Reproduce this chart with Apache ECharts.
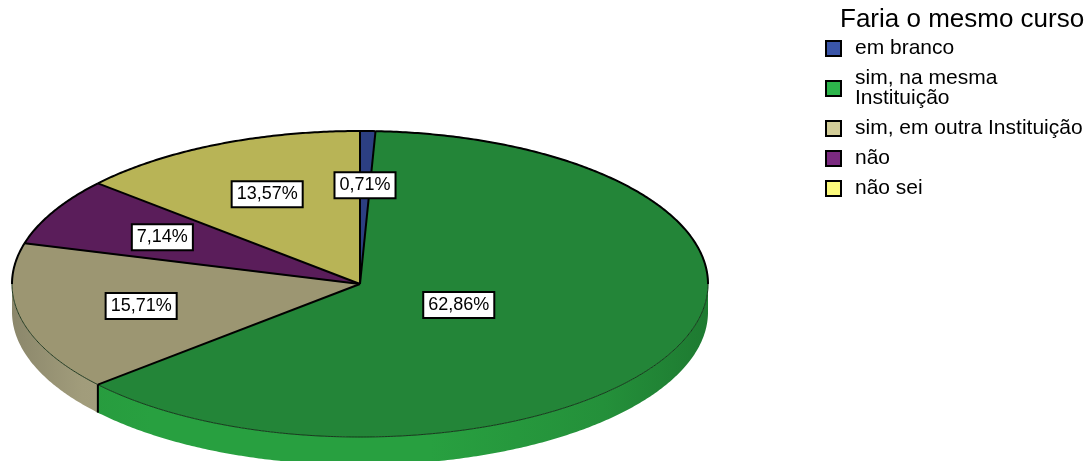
<!DOCTYPE html>
<html>
<head>
<meta charset="utf-8">
<script src="https://cdn.jsdelivr.net/npm/echarts@6/dist/echarts.min.js"></script>
<style>
html,body{margin:0;padding:0;background:#fff;}
#chart{width:1091px;height:461px;}
</style>
</head>
<body>
<div id="chart"></div>
<script>
// ---- data ----
const categories = ['em branco', 'sim, na mesma Instituição', 'sim, em outra Instituição', 'não', 'não sei'];
const percentages = [0.71, 62.86, 15.71, 7.14, 13.57];
const valueLabels = ['0,71%', '62,86%', '15,71%', '7,14%', '13,57%'];
const legendTitle = 'Faria o mesmo curso';

// ---- styles ----
const topColors = ['#2c3f82', '#238538', '#9c9672', '#5a1d5a', '#b8b456'];
const sideColors = ['#3a55a8', '#28a040', '#a6a17f', '#6e2a70', '#cfcb66'];
const legendColors = ['#3a55a8', '#2db54b', '#d3cd98', '#7b2a80', '#fcfa7c'];

const CX = 360, CY = 284, RX = 348, RY = 153, DEPTH = 28;
const FONT = '"Liberation Sans", Arial, sans-serif';

const total = percentages.reduce((a, b) => a + b, 0);

function pt(theta, dy) {
  const r = theta * Math.PI / 180;
  return [CX + RX * Math.sin(r), CY - RY * Math.cos(r) + (dy || 0)];
}
function arc(a, b, dy) {
  const n = Math.max(2, Math.ceil(Math.abs(b - a) / 0.5));
  const pts = [];
  for (let i = 0; i <= n; i++) pts.push(pt(a + (b - a) * i / n, dy));
  return pts;
}
function shade(hex, f) {
  const c = parseInt(hex.slice(1), 16);
  const r = Math.min(255, Math.round(((c >> 16) & 255) * f));
  const g = Math.min(255, Math.round(((c >> 8) & 255) * f));
  const b = Math.min(255, Math.round((c & 255) * f));
  return 'rgb(' + r + ',' + g + ',' + b + ')';
}
function intersect(a0, a1, b0, b1) {
  const s = Math.max(a0, b0), e = Math.min(a1, b1);
  return e > s ? [s, e] : null;
}

function renderSlice(params, api) {
  const k = params.seriesIndex;
  let before = 0;
  for (let i = 0; i < k; i++) before += percentages[i];
  const v = api.value(0);
  const a0 = before / total * 360;
  const a1 = (before + v) / total * 360;
  const children = [];

  // top face
  const topPts = [[CX, CY]].concat(arc(a0, a1, 0));
  children.push({ type: 'polygon', z2: 2, shape: { points: topPts },
    style: { fill: topColors[k], stroke: topColors[k], lineWidth: 0.6 } });

  // side (front half only)
  const front = intersect(a0, a1, 90, 270);
  if (front) {
    const upper = arc(front[0], front[1], 0);
    const lower = arc(front[1], front[0], DEPTH);
    const base = sideColors[k];
    children.push({ type: 'polygon', z2: 1, shape: { points: upper.concat(lower) },
      style: {
        fill: new echarts.graphic.LinearGradient(CX - RX, 0, CX + RX, 0, [
          { offset: 0, color: shade(base, 0.84) },
          { offset: 0.1, color: shade(base, 0.97) },
          { offset: 0.2, color: shade(base, 1.0) },
          { offset: 0.6, color: shade(base, 1.0) },
          { offset: 0.85, color: shade(base, 0.9) },
          { offset: 1, color: shade(base, 0.76) }
        ], true)
      } });
    children.push({ type: 'polyline', z2: 4, shape: { points: upper },
      style: { fill: null, stroke: '#143018', lineWidth: 0.9 } });
  }
  // back arcs (thick black outline)
  [intersect(a0, a1, 0, 90), intersect(a0, a1, 270, 360)].forEach(function (seg) {
    if (seg) children.push({ type: 'polyline', z2: 5, shape: { points: arc(seg[0], seg[1], 0) },
      style: { fill: null, stroke: '#000', lineWidth: 2 } });
  });
  // radial boundary at start
  const ps = pt(a0, 0);
  children.push({ type: 'line', z2: 5, shape: { x1: CX, y1: CY, x2: ps[0], y2: ps[1] },
    style: { stroke: '#000', lineWidth: 2 } });
  if (a0 > 90 && a0 < 270) {
    children.push({ type: 'line', z2: 5, shape: { x1: ps[0], y1: ps[1], x2: ps[0], y2: ps[1] + DEPTH },
      style: { stroke: '#000', lineWidth: 2 } });
  }
  // label
  const mid = (a0 + a1) / 2;
  const f = v / total > 0.5 ? 0.315 : 0.645;
  const r = mid * Math.PI / 180;
  const lx = CX + RX * f * Math.sin(r), ly = CY - RY * f * Math.cos(r);
  children.push({ type: 'text', z2: 10, x: lx, y: ly,
    style: { text: valueLabels[k], fill: '#000', font: '18px ' + FONT,
      align: 'center', verticalAlign: 'middle',
      backgroundColor: '#fff', borderColor: '#000', borderWidth: 2, padding: [4, 4, 2, 4] } });

  return { type: 'group', children: children };
}

const chart = echarts.init(document.getElementById('chart'));
chart.setOption({
  animation: false,
  backgroundColor: '#fff',
  title: {
    text: legendTitle, left: 840, top: 7, padding: 0,
    textStyle: { fontFamily: FONT, fontSize: 26, fontWeight: 'normal', color: '#000' }
  },
  legend: {
    orient: 'vertical', left: 825, top: 38, padding: 0,
    itemWidth: 15, itemHeight: 15, itemGap: 9, icon: 'rect',
    selectedMode: false,
    itemStyle: { borderColor: '#000', borderWidth: 2 },
    textStyle: { fontFamily: FONT, fontSize: 21, lineHeight: 20, color: '#000', padding: [0, 0, 0, 9] },
    formatter: function (name) { return name.replace('mesma ', 'mesma\n'); },
    data: categories
  },
  series: categories.map(function (name, k) {
    return {
      type: 'custom', name: name, coordinateSystem: 'none',
      itemStyle: { color: legendColors[k] },
      renderItem: renderSlice,
      data: [[percentages[k]]]
    };
  })
});
</script>
</body>
</html>
